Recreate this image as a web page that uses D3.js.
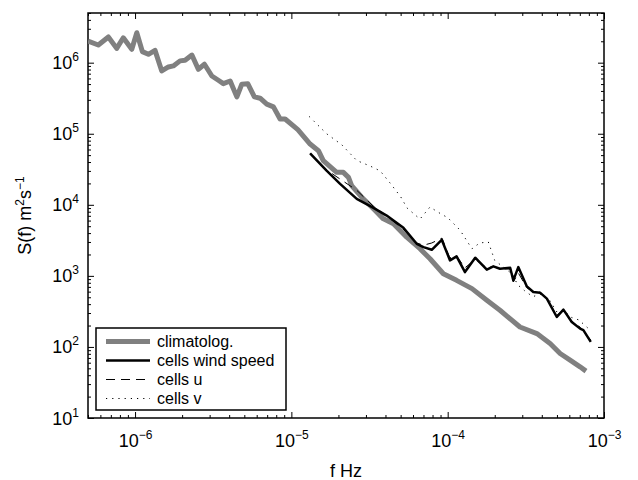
<!DOCTYPE html>
<html><head><meta charset="utf-8">
<script src="https://cdn.jsdelivr.net/npm/d3@7"></script>
<style>body{margin:0;background:#fff}svg{display:block}text{font-family:"Liberation Sans",Arial,sans-serif;fill:#000}</style>
</head><body><svg id="c" width="638" height="480"></svg>
<script>
// climatological spectrum
const climF = [5.0e-7,5.82e-7,6.75e-7,7.63e-7,8.41e-7,9.53e-7,1.026e-6,1.114e-6,1.217e-6,1.342e-6,1.482e-6,1.634e-6,1.758e-6,1.94e-6,2.09e-6,2.31e-6,2.54e-6,2.78e-6,3.10e-6,3.41e-6,3.67e-6,4.06e-6,4.48e-6,4.82e-6,5.26e-6,5.80e-6,6.31e-6,6.96e-6,7.68e-6,8.47e-6,9.12e-6,1.10e-5,1.318e-5,1.49e-5,1.60e-5,1.95e-5,2.15e-5,2.32e-5,2.43e-5,2.82e-5,3.35e-5,3.88e-5,4.50e-5,5.47e-5,6.65e-5,7.71e-5,9.38e-5,1.14e-4,1.43e-4,1.78e-4,2.16e-4,2.90e-4,3.72e-4,4.52e-4,5.24e-4,6.07e-4,7.03e-4,7.67e-4];
const climS = [2.02e6,1.77e6,2.30e6,1.59e6,2.24e6,1.54e6,2.64e6,1.43e6,1.31e6,1.49e6,7.65e5,8.71e5,9.0e5,1.06e6,1.08e6,1.28e6,8.07e5,9.5e5,6.5e5,5.66e5,5.07e5,5.53e5,3.30e5,4.98e5,5.07e5,3.30e5,3.16e5,2.61e5,2.39e5,1.61e5,1.61e5,1.14e5,7.16e4,5.77e4,4.18e4,2.86e4,2.86e4,2.43e4,1.86e4,1.28e4,8.77e3,6.34e3,5.40e3,3.50e3,2.41e3,1.74e3,1.07e3,865,661,453,328,191,154,112,80.9,65.2,52.5,45.7];
// cells wind speed
const wsF = [1.318e-5,1.68e-5,2.05e-5,2.62e-5,3.35e-5,4.07e-5,5.21e-5,6.34e-5,7.0e-5,7.91e-5,9.16e-5,1.035e-4,1.14e-4,1.29e-4,1.50e-4,1.78e-4,1.96e-4,2.16e-4,2.51e-4,2.63e-4,2.83e-4,3.21e-4,3.53e-4,3.90e-4,4.31e-4,4.99e-4,5.50e-4,6.22e-4,7.03e-4,7.38e-4,8.23e-4];
const wsS = [5.28e4,3.02e4,1.97e4,1.21e4,9.06e3,7.06e3,4.74e3,2.83e3,2.54e3,2.33e3,3.22e3,1.65e3,1.88e3,1.13e3,1.80e3,1.22e3,1.36e3,1.26e3,1.30e3,865,1.33e3,711,592,580,479,264,335,224,181,172,118];
// cells u
const uF = [1.32e-5,1.68e-5,2.05e-5,2.62e-5,3.35e-5,4.07e-5,5.21e-5,6.34e-5,7.0e-5,7.9e-5,9.2e-5,1.03e-4,1.14e-4,1.29e-4,1.5e-4,1.78e-4,1.96e-4,2.16e-4,2.51e-4,2.63e-4,2.83e-4,3.21e-4,3.53e-4,3.9e-4,4.31e-4,4.99e-4,5.5e-4,6.22e-4,7.03e-4,8.23e-4];
const uS = [5.3e4,3.1e4,2.3e4,1.6e4,9.5e3,7.0e3,4.5e3,2.9e3,2.7e3,2.9e3,3.4e3,1.8e3,1.9e3,1.3e3,1.7e3,1.3e3,1.35e3,1.25e3,1.25e3,820,1.1e3,680,590,590,470,280,330,230,190,125];
// cells v
const vF = [1.30e-5,1.68e-5,2.10e-5,2.62e-5,3.2e-5,3.7e-5,4.3e-5,5.0e-5,5.5e-5,6.65e-5,7.7e-5,9.0e-5,1.0e-4,1.2e-4,1.43e-4,1.6e-4,1.82e-4,2.0e-4,2.3e-4,2.6e-4,2.8e-4,3.1e-4,3.5e-4,4.0e-4,4.5e-4,5.0e-4,5.5e-4,6.2e-4,6.9e-4,8.1e-4];
const vS = [1.75e5,1.0e5,7.0e4,4.2e4,3.5e4,3.0e4,2.0e4,1.3e4,9.0e3,6.3e3,9.3e3,7.5e3,6.6e3,4.4e3,2.4e3,2.9e3,3.0e3,1.65e3,1.3e3,1.05e3,750,620,510,560,450,310,330,260,240,175];
const xTickExp = [-6,-5,-4,-3];
const yTickExp = [1,2,3,4,5,6];
const legendLabels = ["climatolog.","cells wind speed","cells u","cells v"];

const svg = d3.select("#c");
const L=88,R=604,T=13,B=418;
const x = d3.scaleLog().domain([5e-7,1e-3]).range([L,R]);
const y = d3.scaleLog().domain([10,5e6]).range([B,T]);

// minor ticks
const minorX=[],minorY=[];
for(let e=-7;e<=-3;e++)for(let m=2;m<=9;m++){const v=m*Math.pow(10,e);if(v>=5e-7&&v<=1e-3)minorX.push(v);}
for(let e=1;e<=6;e++)for(let m=2;m<=9;m++){const v=m*Math.pow(10,e);if(v<=5e6)minorY.push(v);}
const majX=xTickExp.map(e=>Math.pow(10,e)), majY=yTickExp.map(e=>Math.pow(10,e));

function axisG(axis, tr){return svg.append("g").attr("transform",tr).call(axis).call(g=>{g.select(".domain").remove();g.selectAll("line").attr("stroke","#000");});}
const mj=6, mn=3;
axisG(d3.axisBottom(x).tickValues(minorX).tickSize(-mn).tickFormat(""),`translate(0,${B})`);
axisG(d3.axisTop(x).tickValues(minorX).tickSize(-mn).tickFormat(""),`translate(0,${T})`);
axisG(d3.axisLeft(y).tickValues(minorY).tickSize(-mn).tickFormat(""),`translate(${L},0)`);
axisG(d3.axisRight(y).tickValues(minorY).tickSize(-mn).tickFormat(""),`translate(${R},0)`);
axisG(d3.axisTop(x).tickValues(majX).tickSize(-mj).tickFormat(""),`translate(0,${T})`);
axisG(d3.axisRight(y).tickValues(majY).tickSize(-mj).tickFormat(""),`translate(${R},0)`);
const xa = axisG(d3.axisBottom(x).tickValues(majX).tickSize(-mj).tickPadding(16).tickFormat(""),`translate(0,${B})`);
const ya = axisG(d3.axisLeft(y).tickValues(majY).tickSize(-mj).tickPadding(16).tickFormat(""),`translate(${L},0)`);

const fs=18, sfs=12;
xa.selectAll(".tick").each(function(d,i){
  const t=d3.select(this).append("text").attr("y",29).attr("text-anchor","middle").style("font-size",fs+"px");
  t.append("tspan").text("10");
  t.append("tspan").attr("dy",-8).style("font-size",sfs+"px").text("\u2212"+(-xTickExp[i]));
});
ya.selectAll(".tick").each(function(d,i){
  const t=d3.select(this).append("text").attr("x",-9).attr("y",6).attr("text-anchor","end").style("font-size",fs+"px");
  t.append("tspan").text("10");
  t.append("tspan").attr("dy",-8).style("font-size",sfs+"px").text(yTickExp[i]);
});

svg.append("rect").attr("x",L).attr("y",T).attr("width",R-L).attr("height",B-T).attr("fill","none").attr("stroke","#000").attr("stroke-width",1.5);

svg.append("clipPath").attr("id","cp").append("rect").attr("x",L).attr("y",T).attr("width",R-L).attr("height",B-T);
const line=d3.line().x(d=>x(d[0])).y(d=>y(d[1]));
const styles=[
 {f:climF,s:climS,color:"#808080",w:5,dash:null},
 {f:wsF,s:wsS,color:"#000",w:2.5,dash:null},
 {f:uF,s:uS,color:"#000",w:1,dash:"9,6"},
 {f:vF,s:vS,color:"#000",w:1,dash:"1.2,5"}
];
const pg=svg.append("g").attr("clip-path","url(#cp)");
[0,3,2,1].forEach(i=>{const st=styles[i];
 pg.append("path").datum(st.f.map((f,j)=>[f,st.s[j]])).attr("d",line).attr("fill","none")
  .attr("stroke",st.color).attr("stroke-width",st.w).attr("stroke-linejoin","round")
  .attr("stroke-dasharray",st.dash);});

// legend
const lg=svg.append("g");
lg.append("rect").attr("x",96).attr("y",328).attr("width",190).attr("height",82).attr("fill","#fff").attr("stroke","#000").attr("stroke-width",1.5);
legendLabels.forEach((lab,i)=>{const st=styles[i];const yy=341.5+i*19;
 lg.append("line").attr("x1",106).attr("x2",150).attr("y1",yy).attr("y2",yy).attr("stroke",st.color).attr("stroke-width",st.w).attr("stroke-dasharray",st.dash);
 lg.append("text").attr("x",157).attr("y",yy+5.5).style("font-size","16px").text(lab);
});

// axis labels
svg.append("text").attr("x",(L+R)/2).attr("y",477).attr("text-anchor","middle").style("font-size",fs+"px").text("f Hz");
const yl=svg.append("text").attr("transform",`translate(31,${(T+B)/2}) rotate(-90)`).attr("text-anchor","middle").style("font-size",fs+"px");
yl.append("tspan").text("S(f) m");
yl.append("tspan").attr("dy",-7).style("font-size",sfs+"px").text("2");
yl.append("tspan").attr("dy",7).text("s");
yl.append("tspan").attr("dy",-7).style("font-size",sfs+"px").text("\u22121");
</script></body></html>
